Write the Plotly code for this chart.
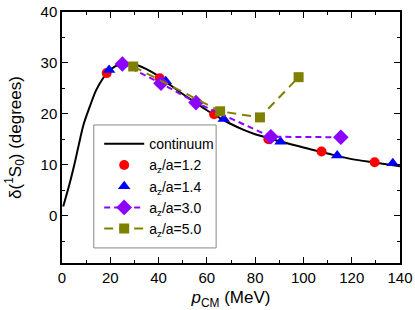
import plotly.graph_objects as go

cont_x = [0.5, 3, 5, 7, 9, 11.5, 14.2, 17, 19, 22, 25, 28, 31, 35, 40, 45, 50, 55, 60, 65, 70, 75, 80, 85, 90, 100, 110, 120, 130, 140]
cont_y = [1.8, 6.0, 9.8, 14.0, 18.0, 21.4, 24.7, 27.0, 28.2, 29.3, 29.8, 29.9, 29.6, 28.8, 27.4, 25.6, 23.9, 22.3, 20.7, 19.3, 18.0, 16.9, 16.0, 15.3, 14.6, 13.4, 12.2, 11.1, 10.4, 9.7]

a12_x = [18.5, 40.5, 63, 85.5, 107.5, 129.5]
a12_y = [28.0, 27.0, 19.9, 15.0, 12.6, 10.5]

a14_x = [19.5, 43, 67, 90.5, 114, 137]
a14_y = [28.6, 26.4, 19.0, 14.5, 11.8, 10.3]

a30_x = [25, 41, 55.5, 86.5, 115.5]
a30_y = [29.8, 26.0, 22.2, 15.5, 15.4]

a50_x = [29.5, 65.5, 82, 98]
a50_y = [29.3, 20.5, 19.3, 27.2]

FONT = "Liberation Sans, Arial"

fig = go.Figure()
fig.add_trace(go.Scatter(x=cont_x, y=cont_y, mode="lines", name="continuum",
                         line=dict(color="black", width=2, shape="spline")))
fig.add_trace(go.Scatter(x=a12_x, y=a12_y, mode="markers", name="a<sub>z</sub>/a=1.2",
                         marker=dict(symbol="circle", color="#ff0000", size=10)))
fig.add_trace(go.Scatter(x=a14_x, y=a14_y, mode="markers", name="a<sub>z</sub>/a=1.4",
                         marker=dict(symbol="triangle-up", color="#0000ff", size=11)))
fig.add_trace(go.Scatter(x=a30_x, y=a30_y, mode="lines+markers", name="a<sub>z</sub>/a=3.0",
                         line=dict(color="#8b00ff", width=2, dash="6px,4px"),
                         marker=dict(symbol="diamond", color="#8b00ff", size=12)))
fig.add_trace(go.Scatter(x=a50_x, y=a50_y, mode="lines+markers", name="a<sub>z</sub>/a=5.0",
                         line=dict(color="#808000", width=2, dash="9px,6px"),
                         marker=dict(symbol="square", color="#808000", size=10)))

axis_common = dict(showline=True, linecolor="black", linewidth=1.5, mirror="allticks",
                   ticks="inside", ticklen=6, tickwidth=1.2, tickcolor="black",
                   showgrid=False, zeroline=False, automargin=False,
                   tickfont=dict(size=15, color="black", family=FONT))

fig.update_xaxes(range=[0, 140], tickvals=[0, 20, 40, 60, 80, 100, 120, 140],
                 minor=dict(ticks="inside", ticklen=3, tickcolor="black", dtick=10, tick0=0),
                 title=dict(text="<i>p</i><sub>CM</sub> (MeV)",
                            font=dict(size=17, color="black", family=FONT)),
                 **axis_common)
fig.update_yaxes(range=[-9.3, 40], tickvals=[0, 10, 20, 30, 40],
                 minor=dict(ticks="inside", ticklen=3, tickcolor="black", dtick=5, tick0=0),
                 title=dict(text="δ(<sup>1</sup>S<sub>0</sub>) (degrees)",
                            font=dict(size=17, color="black", family=FONT)),
                 **axis_common)

# legend frame drawn as a shape so its padding matches the reference box
fig.add_shape(type="rect", xref="paper", yref="paper",
              x0=0.094, x1=0.456, y0=0.06, y1=0.55,
              line=dict(color="#888888", width=1), fillcolor="white", layer="below")

fig.update_layout(
    width=415, height=310,
    margin=dict(l=62, r=15, t=12, b=47),
    plot_bgcolor="rgba(0,0,0,0)", paper_bgcolor="white",
    font=dict(family=FONT, color="black"),
    legend=dict(x=0.11, y=0.537, xanchor="left", yanchor="top",
                borderwidth=0, bgcolor="rgba(0,0,0,0)",
                font=dict(size=14, color="black", family=FONT),
                tracegroupgap=0, itemwidth=40),
    showlegend=True,
)

fig.write_html("out.html", config={"displayModeBar": False},
               post_script="document.body.style.margin='0';")
